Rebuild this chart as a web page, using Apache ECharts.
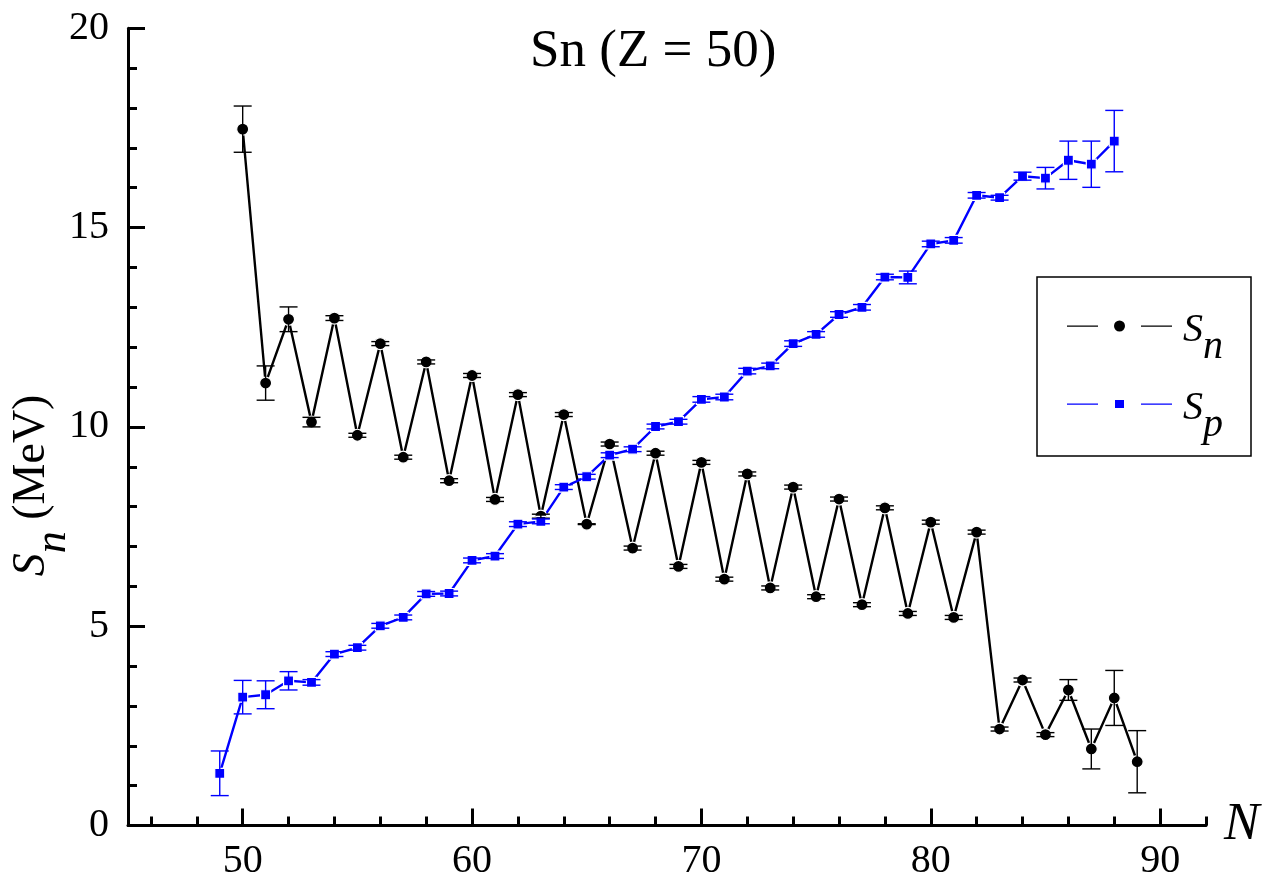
<!DOCTYPE html>
<html>
<head>
<meta charset="utf-8">
<script src="https://cdn.jsdelivr.net/npm/echarts@6/dist/echarts.min.js"></script>
<style>
  html, body { margin: 0; padding: 0; background: #fff; }
  #chart { width: 1266px; height: 882px; }
</style>
</head>
<body>
<div id="chart"></div>
<script>
// ---- data ----
const snN = [50,51,52,53,54,55,56,57,58,59,60,61,62,63,64,65,66,67,68,69,70,71,72,73,74,75,76,77,78,79,80,81,82,83,84,85,86,87,88,89];
const snVal = [17.47,11.10,12.70,10.12,12.73,9.79,12.09,9.24,11.63,8.65,11.29,8.18,10.81,7.76,10.31,7.56,9.57,6.96,9.34,6.50,9.11,6.18,8.82,5.96,8.49,5.74,8.19,5.54,7.97,5.32,7.61,5.22,7.36,2.42,3.65,2.28,3.40,1.92,3.20,1.60];
const snErr = [0.58,0.43,0.31,0.12,0.06,0.05,0.05,0.05,0.05,0.05,0.05,0.05,0.05,0.05,0.05,0.01,0.05,0.05,0.05,0.05,0.05,0.05,0.05,0.05,0.05,0.05,0.05,0.05,0.05,0.05,0.05,0.05,0.05,0.05,0.05,0.05,0.26,0.50,0.69,0.78];

const spN = [49,50,51,52,53,54,55,56,57,58,59,60,61,62,63,64,65,66,67,68,69,70,71,72,73,74,75,76,77,78,79,80,81,82,83,84,85,86,87,88];
const spVal = [1.31,3.22,3.28,3.63,3.59,4.30,4.46,5.01,5.22,5.81,5.82,6.65,6.76,7.56,7.63,8.49,8.75,9.29,9.44,10.01,10.13,10.69,10.75,11.40,11.53,12.09,12.32,12.82,13.00,13.76,13.75,14.59,14.68,15.81,15.75,16.29,16.24,16.69,16.59,17.17];
const spErr = [0.56,0.42,0.35,0.23,0.07,0.06,0.06,0.06,0.06,0.06,0.06,0.06,0.06,0.06,0.06,0.06,0.06,0.06,0.06,0.06,0.06,0.07,0.07,0.07,0.07,0.07,0.07,0.07,0.07,0.07,0.16,0.07,0.07,0.07,0.06,0.10,0.27,0.48,0.58,0.77];

const xMajorTicks = [50,60,70,80,90];
const xMinorTicks = [46,48,52,54,56,58,62,64,66,68,72,74,76,78,82,84,86,88,92];

const titleText = 'Sn (Z = 50)';
const FONT = "'Liberation Serif', 'Times New Roman', serif";
const BLACK = '#000000';
const BLUE = '#0000ff';

// ---- build ----
const snData = snN.map((n, i) => [n, snVal[i]]);
const spData = spN.map((n, i) => [n, spVal[i]]);
const snErrData = snN.map((n, i) => [n, snVal[i], snErr[i]]);
const spErrData = spN.map((n, i) => [n, spVal[i], spErr[i]]);

function errRenderer(color) {
  return function (params, api) {
    const x = api.value(0), y = api.value(1), e = api.value(2);
    const top = api.coord([x, y + e]);
    const bot = api.coord([x, y - e]);
    const hw = 9;
    const style = { stroke: color, lineWidth: 1.4, fill: null };
    return {
      type: 'group',
      children: [
        { type: 'line', shape: { x1: top[0], y1: top[1], x2: bot[0], y2: bot[1] }, style: style },
        { type: 'line', shape: { x1: top[0] - hw, y1: top[1], x2: top[0] + hw, y2: top[1] }, style: style },
        { type: 'line', shape: { x1: bot[0] - hw, y1: bot[1], x2: bot[0] + hw, y2: bot[1] }, style: style }
      ]
    };
  };
}

const circleIcon = 'path://M0,5 L31,5 L31,6.2 L0,6.2 Z M74,5 L105,5 L105,6.2 L74,6.2 Z M52.5,0 A5.5,5.5 0 1 1 52.5,11 A5.5,5.5 0 1 1 52.5,0 Z';
const squareIcon = 'path://M0,5 L31,5 L31,6.2 L0,6.2 Z M74,5 L105,5 L105,6.2 L74,6.2 Z M48,1.5 L57,1.5 L57,9.5 L48,9.5 Z';

const axisCommon = {
  axisLine: { show: true, lineStyle: { color: BLACK, width: 3 } },
  splitLine: { show: false }
};

const option = {
  animation: false,
  backgroundColor: '#ffffff',
  textStyle: { fontFamily: FONT },
  title: {
    text: titleText,
    left: 530,
    top: 26,
    padding: 0,
    textStyle: { fontFamily: FONT, fontSize: 53, fontWeight: 'normal', color: BLACK }
  },
  grid: {
    left: 128, right: 60, top: 28.3, bottom: 56.5,
    containLabel: false,
    outerBoundsMode: 'none'
  },
  legend: {
    orient: 'vertical',
    left: 1037,
    top: 277,
    padding: [8, 28, 11, 30],
    itemGap: -4,
    itemWidth: 105,
    itemHeight: 11,
    borderColor: BLACK,
    borderWidth: 1.5,
    borderRadius: 0,
    itemStyle: { borderWidth: 0 },
    selectedMode: false,
    data: [
      { name: 'Sn', icon: circleIcon },
      { name: 'Sp', icon: squareIcon }
    ],
    formatter: function (name) {
      return '{s|S}{sub|' + name.slice(1) + '}';
    },
    textStyle: {
      color: BLACK,
      fontFamily: FONT,
      rich: {
        s: { fontFamily: FONT, fontStyle: 'italic', fontSize: 40, lineHeight: 40, padding: [8, 0, 0, 6], color: BLACK },
        sub: { fontFamily: FONT, fontStyle: 'italic', fontSize: 40, lineHeight: 40, padding: [42, 0, 0, 0], color: BLACK }
      }
    }
  },
  xAxis: [
    Object.assign({}, axisCommon, {
      type: 'value',
      min: 45,
      max: 92,
      position: 'bottom',
      name: 'N',
      nameLocation: 'end',
      nameGap: 18,
      nameMoveOverlap: false,
      nameTextStyle: { fontFamily: FONT, fontStyle: 'italic', fontSize: 53, color: BLACK, padding: [0, 0, 10, 0] },
      axisTick: { show: true, inside: true, length: 17, lineStyle: { color: BLACK, width: 3 }, customValues: xMajorTicks },
      axisLabel: { show: true, margin: 16, fontFamily: FONT, fontSize: 40, color: BLACK, customValues: xMajorTicks }
    }),
    {
      type: 'value',
      min: 45,
      max: 92,
      position: 'bottom',
      axisLine: { show: false },
      splitLine: { show: false },
      axisTick: { show: true, inside: true, length: 9, lineStyle: { color: BLACK, width: 3 }, customValues: xMinorTicks },
      axisLabel: { show: false }
    }
  ],
  yAxis: Object.assign({}, axisCommon, {
    type: 'value',
    min: 0,
    max: 20,
    interval: 5,
    name: '{s|S}{sub|n}{m| (MeV)}',
    nameLocation: 'middle',
    nameRotate: 90,
    nameGap: 73,
    nameMoveOverlap: false,
    nameTextStyle: {
      color: BLACK,
      fontFamily: FONT,
      padding: [0, 117, 0, 0],
      rich: {
        s: { fontFamily: FONT, fontStyle: 'italic', fontSize: 46, lineHeight: 46, color: BLACK },
        sub: { fontFamily: FONT, fontStyle: 'italic', fontSize: 44, lineHeight: 44, padding: [43, 0, 0, 0], color: BLACK },
        m: { fontFamily: FONT, fontStyle: 'normal', fontSize: 46, lineHeight: 46, color: BLACK }
      }
    },
    axisTick: { show: true, inside: true, length: 17, lineStyle: { color: BLACK, width: 3 } },
    minorTick: { show: true, splitNumber: 5, length: 9, lineStyle: { color: BLACK, width: 3 } },
    axisLabel: { show: true, margin: 19, fontFamily: FONT, fontSize: 40, color: BLACK }
  }),
  series: [
    {
      name: 'Sn',
      type: 'line',
      xAxisIndex: 0,
      data: snData,
      symbol: 'circle',
      symbolSize: 12,
      color: BLACK,
      itemStyle: { color: BLACK, borderColor: '#ffffff', borderWidth: 1.2 },
      lineStyle: { color: BLACK, width: 2.4 },
      z: 2
    },
    {
      name: 'Sp',
      type: 'line',
      xAxisIndex: 0,
      data: spData,
      symbol: 'rect',
      symbolSize: 10,
      color: BLUE,
      itemStyle: { color: BLUE, borderColor: '#ffffff', borderWidth: 1.2 },
      lineStyle: { color: BLUE, width: 2.4 },
      z: 2
    },
    {
      name: 'Sn error',
      type: 'custom',
      xAxisIndex: 0,
      data: snErrData,
      encode: { x: 0, y: 1 },
      renderItem: errRenderer(BLACK),
      z: 3,
      silent: true
    },
    {
      name: 'Sp error',
      type: 'custom',
      xAxisIndex: 0,
      data: spErrData,
      encode: { x: 0, y: 1 },
      renderItem: errRenderer(BLUE),
      z: 3,
      silent: true
    }
  ]
};

const chart = echarts.init(document.getElementById('chart'), null, { renderer: 'canvas' });
chart.setOption(option);
</script>
</body>
</html>
